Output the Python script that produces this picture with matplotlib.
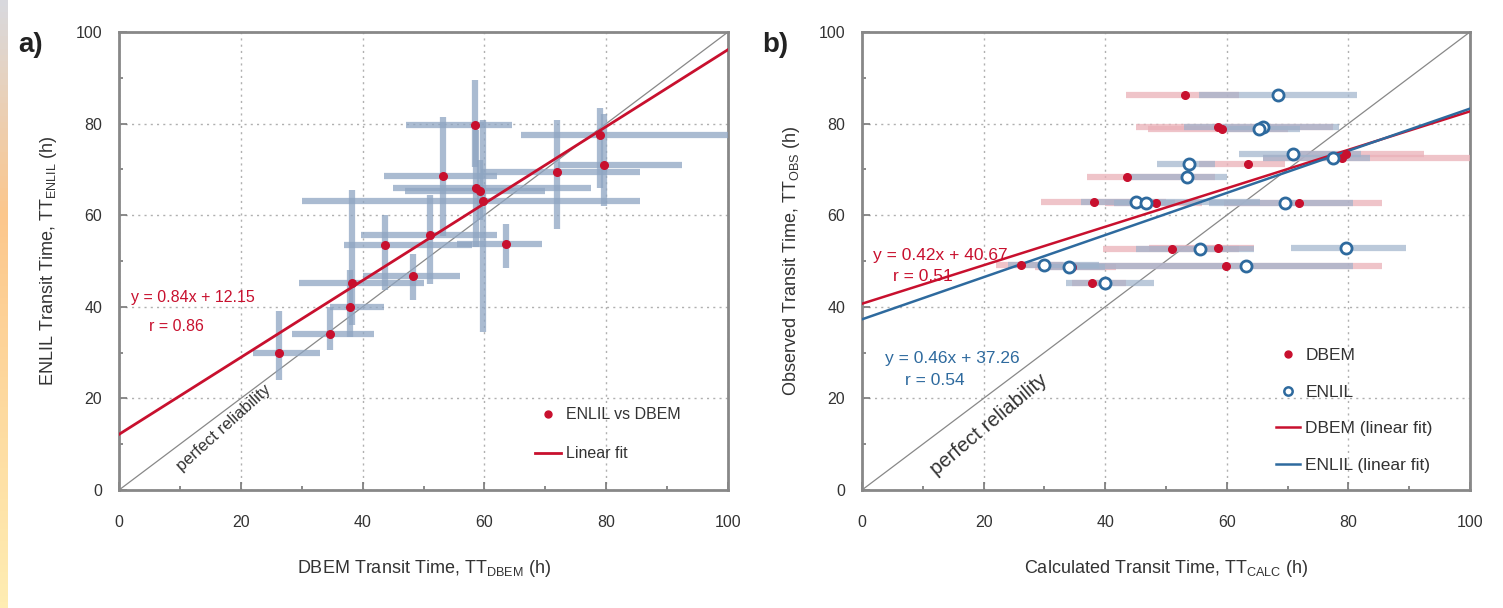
import numpy as np
import matplotlib
matplotlib.use("Agg")
import matplotlib.pyplot as plt
from matplotlib.lines import Line2D

plt.rcParams['font.family'] = ['Liberation Sans', 'DejaVu Sans']

# Transit times per event (h)
tt_dbem = [53.2, 58.6, 59.2, 79.0, 79.6, 63.5, 43.6, 38.2, 48.3, 71.9, 51.0, 58.5, 26.2, 34.6, 59.8, 37.9]
tt_enlil = [68.5, 66.0, 65.3, 77.4, 70.9, 53.8, 53.5, 45.1, 46.8, 69.5, 55.6, 79.6, 29.9, 34.0, 63.1, 40.0]
tt_obs = [86.2, 79.3, 78.9, 72.4, 73.3, 71.2, 68.4, 62.8, 62.6, 62.7, 52.7, 52.9, 49.1, 48.7, 49.0, 45.2]

# Ensemble ranges (min / max) of each model
dbem_lo = [43.5, 45.0, 47.0, 66.0, 72.0, 55.5, 37.0, 29.5, 40.0, 59.5, 39.7, 47.2, 22.0, 28.4, 30.0, 34.6]
dbem_hi = [62.0, 77.5, 70.0, 100.0, 92.5, 69.5, 58.0, 50.0, 56.0, 85.5, 62.0, 64.5, 33.0, 41.8, 85.5, 43.5]
enlil_lo = [55.5, 53.0, 59.0, 66.0, 62.0, 48.5, 43.6, 36.0, 41.5, 57.0, 45.0, 70.5, 24.0, 30.6, 34.5, 33.5]
enlil_hi = [81.5, 78.5, 72.0, 83.5, 82.0, 58.0, 60.0, 65.5, 51.5, 80.8, 64.5, 89.5, 39.0, 40.0, 80.8, 48.0]

# Linear fits: slope, intercept, correlation
fit_a = (0.84, 12.15, 0.86)
fit_dbem = (0.42, 40.67, 0.51)
fit_enlil = (0.46, 37.26, 0.54)

ticks = [0, 20, 40, 60, 80, 100]

RED = '#c8102e'
BLUE = '#2e6a9e'
BAR_A = '#8ea5c2'
BAR_RED = '#eab0b8'
BAR_BLUE = '#9eb2cb'
TXT = '#333333'

x = np.array(tt_dbem)
ye = np.array(tt_enlil)
yo = np.array(tt_obs)
dlo, dhi = np.array(dbem_lo), np.array(dbem_hi)
elo, ehi = np.array(enlil_lo), np.array(enlil_hi)

fig = plt.figure(figsize=(15.03, 6.08), dpi=100)
fig.patch.set_facecolor('white')

# slide-edge strip on the left
strip = fig.add_axes([0, 0, 0.0048, 1])
grad = np.zeros((100, 1, 3))
top = np.array([0.85, 0.85, 0.87])
mid = np.array([0.99, 0.78, 0.55])
bot = np.array([1.0, 0.93, 0.70])
for i in range(100):
    t = i / 99
    if t < 0.35:
        c = top + (mid - top) * (t / 0.35)
    else:
        c = mid + (bot - mid) * ((t - 0.35) / 0.65)
    grad[i, 0] = c
strip.imshow(grad, aspect='auto')
strip.axis('off')

ax_a = fig.add_axes([0.0792, 0.1941, 0.4052, 0.7533])
ax_b = fig.add_axes([0.5735, 0.1941, 0.4045, 0.7533])


def style(ax):
    ax.set_xlim(0, 100)
    ax.set_ylim(0, 100)
    ax.set_xticks(ticks)
    ax.set_yticks(ticks)
    ax.set_xticks(np.arange(10, 100, 20), minor=True)
    ax.set_yticks(np.arange(10, 100, 20), minor=True)
    ax.tick_params(which='both', direction='in', colors='#777777', labelcolor=TXT,
                   labelsize=11.5, width=1.2, top=False, right=False)
    ax.tick_params(which='major', length=6)
    ax.tick_params(axis='x', which='major', pad=18)
    ax.tick_params(axis='y', which='major', pad=12)
    ax.tick_params(which='minor', length=3)
    for s in ax.spines.values():
        s.set_color('#888888')
        s.set_linewidth(2)
    ax.grid(True, which='major', linestyle=(0, (1.5, 3)), color='#b0b0b0', linewidth=1)
    ax.set_axisbelow(True)
    xs = np.array([0, 100])
    ax.plot(xs, xs, color='#888888', lw=0.9, zorder=2)


xs = np.array([0, 100])

# ---- panel a ----
style(ax_a)
ax_a.errorbar(x, ye, xerr=[x - dlo, dhi - x], yerr=[ye - elo, ehi - ye], fmt='none',
              ecolor=BAR_A, elinewidth=4.5, alpha=0.75, capsize=0, zorder=3)
ax_a.plot(xs, fit_a[0] * xs + fit_a[1], color=RED, lw=2, zorder=4)
ax_a.plot(x, ye, 'o', color=RED, ms=5.5, zorder=5)
ax_a.text(2.0, 42.1, f'y = {fit_a[0]:.2f}x + {fit_a[1]:.2f}', color=RED, fontsize=11.5,
          ha='left', va='center')
ax_a.text(9.5, 35.8, f'r = {fit_a[2]:.2f}', color=RED, fontsize=11.5, ha='center', va='center')
ax_a.text(17.2, 13.5, 'perfect reliability', rotation=42, fontsize=12,
          color=TXT, ha='center', va='center', rotation_mode='anchor')
h_a = [Line2D([], [], marker='o', ls='none', color=RED, ms=5),
       Line2D([], [], color=RED, lw=2)]
ax_a.legend(h_a, ['ENLIL vs DBEM', 'Linear fit'], loc='upper left',
            bbox_to_anchor=(0.66, 0.212), frameon=False, fontsize=11.5,
            handlelength=1.6, labelspacing=1.5, handletextpad=0.3, labelcolor=TXT)
ax_a.set_xlabel('DBEM Transit Time, TT$_{\\mathregular{DBEM}}$ (h)', fontsize=13, color=TXT, labelpad=20)
ax_a.set_ylabel('ENLIL Transit Time, TT$_{\\mathregular{ENLIL}}$ (h)', fontsize=13, color=TXT, labelpad=12)

# ---- panel b ----
style(ax_b)
ax_b.errorbar(x, yo, xerr=[x - dlo, dhi - x], fmt='none', ecolor=BAR_RED,
              elinewidth=4.5, alpha=0.75, capsize=0, zorder=3)
ax_b.errorbar(ye, yo, xerr=[ye - elo, ehi - ye], fmt='none', ecolor=BAR_BLUE,
              elinewidth=4.5, alpha=0.7, capsize=0, zorder=3)
ax_b.plot(xs, fit_dbem[0] * xs + fit_dbem[1], color=RED, lw=1.8, zorder=4)
ax_b.plot(xs, fit_enlil[0] * xs + fit_enlil[1], color=BLUE, lw=1.8, zorder=4)
ax_b.plot(x, yo, 'o', color=RED, ms=5.5, zorder=5)
ax_b.plot(ye, yo, 'o', mfc='white', mec=BLUE, mew=2, ms=8, zorder=6)
ax_b.text(1.8, 51.1, f'y = {fit_dbem[0]:.2f}x + {fit_dbem[1]:.2f}', color=RED, fontsize=12.5,
          ha='left', va='center')
ax_b.text(10.0, 46.7, f'r = {fit_dbem[2]:.2f}', color=RED, fontsize=12.5, ha='center', va='center')
ax_b.text(3.8, 28.6, f'y = {fit_enlil[0]:.2f}x + {fit_enlil[1]:.2f}', color=BLUE, fontsize=12.5,
          ha='left', va='center')
ax_b.text(12.0, 24.0, f'r = {fit_enlil[2]:.2f}', color=BLUE, fontsize=12.5, ha='center', va='center')
ax_b.text(20.8, 14.2, 'perfect reliability', rotation=40, fontsize=14.5,
          color=TXT, ha='center', va='center', rotation_mode='anchor')
h_b = [Line2D([], [], marker='o', ls='none', color=RED, ms=5),
       Line2D([], [], marker='o', ls='none', mfc='white', mec=BLUE, mew=1.8, ms=6),
       Line2D([], [], color=RED, lw=1.8),
       Line2D([], [], color=BLUE, lw=1.8)]
ax_b.legend(h_b, ['DBEM', 'ENLIL', 'DBEM (linear fit)', 'ENLIL (linear fit)'], loc='upper left',
            bbox_to_anchor=(0.655, 0.345), frameon=False, fontsize=12.5,
            handlelength=1.4, labelspacing=1.25, handletextpad=0.3, labelcolor=TXT)
ax_b.set_xlabel('Calculated Transit Time, TT$_{\\mathregular{CALC}}$ (h)', fontsize=13, color=TXT, labelpad=20)
ax_b.set_ylabel('Observed Transit Time, TT$_{\\mathregular{OBS}}$ (h)', fontsize=13, color=TXT, labelpad=12)

fig.text(0.012, 0.926, 'a)', fontsize=20, fontweight='bold', color='#222222', va='center')
fig.text(0.507, 0.926, 'b)', fontsize=20, fontweight='bold', color='#222222', va='center')

fig.savefig('out.png', dpi=100, facecolor='white')
